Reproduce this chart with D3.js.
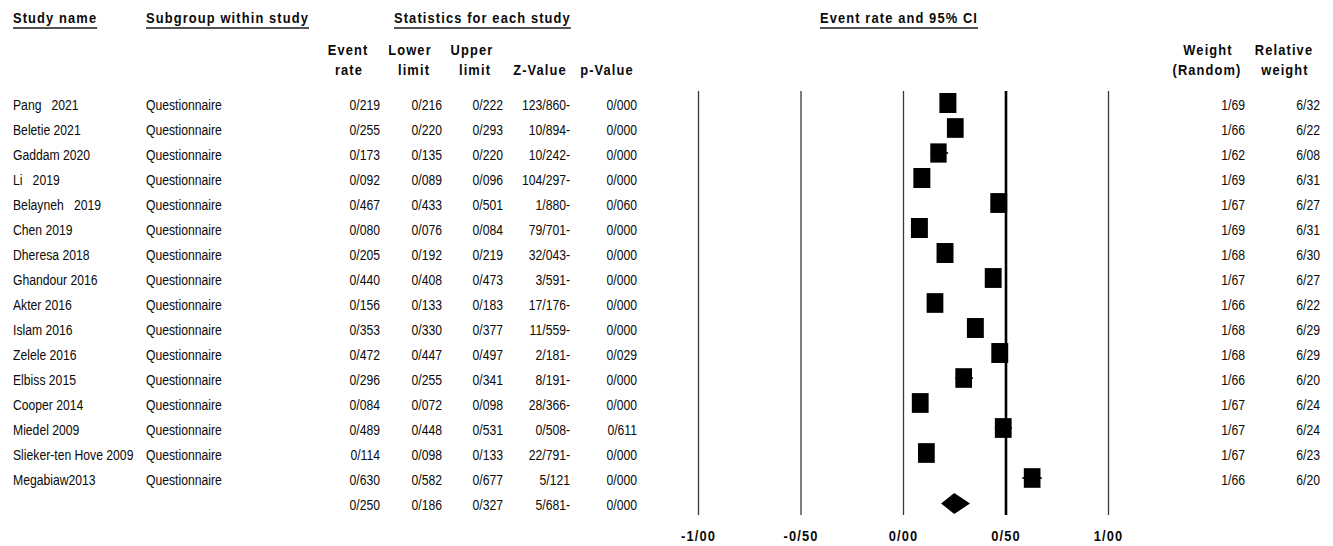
<!DOCTYPE html>
<html>
<head>
<meta charset="utf-8">
<script src="https://cdn.jsdelivr.net/npm/d3@7"></script>
<style>
  html, body { margin: 0; padding: 0; background: #fff; }
  svg { display: block; }
  text { font-family: "Liberation Sans", Arial, sans-serif; fill: #0a0a0a; white-space: pre; }
</style>
</head>
<body>
<svg id="chart" width="1333" height="546"></svg>
<script>
// ---------------- DATA ----------------
const studies = ["Pang   2021", "Beletie 2021", "Gaddam 2020", "Li   2019", "Belayneh   2019", "Chen 2019",
  "Dheresa 2018", "Ghandour 2016", "Akter 2016", "Islam 2016", "Zelele 2016", "Elbiss 2015",
  "Cooper 2014", "Miedel 2009", "Slieker-ten Hove 2009", "Megabiaw2013"];
const subgroups = ["Questionnaire", "Questionnaire", "Questionnaire", "Questionnaire", "Questionnaire", "Questionnaire",
  "Questionnaire", "Questionnaire", "Questionnaire", "Questionnaire", "Questionnaire", "Questionnaire",
  "Questionnaire", "Questionnaire", "Questionnaire", "Questionnaire"];
const eventRate  = [0.219, 0.255, 0.173, 0.092, 0.467, 0.080, 0.205, 0.440, 0.156, 0.353, 0.472, 0.296, 0.084, 0.489, 0.114, 0.630];
const lowerLimit = [0.216, 0.220, 0.135, 0.089, 0.433, 0.076, 0.192, 0.408, 0.133, 0.330, 0.447, 0.255, 0.072, 0.448, 0.098, 0.582];
const upperLimit = [0.222, 0.293, 0.220, 0.096, 0.501, 0.084, 0.219, 0.473, 0.183, 0.377, 0.497, 0.341, 0.098, 0.531, 0.133, 0.677];
const zValue     = [-123.860, -10.894, -10.242, -104.297, -1.880, -79.701, -32.043, -3.591, -17.176, -11.559, -2.181, -8.191, -28.366, -0.508, -22.791, 5.121];
const pValue     = [0.000, 0.000, 0.000, 0.000, 0.060, 0.000, 0.000, 0.000, 0.000, 0.000, 0.029, 0.000, 0.000, 0.611, 0.000, 0.000];
const weightRandom   = [1.69, 1.66, 1.62, 1.69, 1.67, 1.69, 1.68, 1.67, 1.66, 1.68, 1.68, 1.66, 1.67, 1.67, 1.67, 1.66];
const relativeWeight = [6.32, 6.22, 6.08, 6.31, 6.27, 6.31, 6.30, 6.27, 6.22, 6.29, 6.29, 6.20, 6.24, 6.24, 6.23, 6.20];
// pooled (random effects) row
const summaryRate = 0.250, summaryLower = 0.186, summaryUpper = 0.327, summaryZ = -5.681, summaryP = 0.000;
const axisTicks = [-1, -0.5, 0, 0.5, 1];

// ---------------- HELPERS ----------------
const svg = d3.select("#chart");
const f3 = d3.format(".3f"), f2 = d3.format(".2f");
const loc = (s) => s.replace(".", "/");
// table numbers: minus sign written after the number (as in the source)
const fmtNum = (v, f) => { const s = loc(f(Math.abs(v))); return v < 0 ? s + "-" : s; };
// axis labels: leading minus
const fmtAxis = (v) => (v < 0 ? "-" : "") + loc(f2(Math.abs(v)));

const BOLD = { size: 15, weight: "bold", ls: 1.3, sx: 0.86 };
const REG  = { size: 14, weight: "normal", ls: 0, sx: 0.87 };

function txt(parent, x, y, str, style, anchor) {
  return parent.append("text")
    .attr("transform", `translate(${x},${y}) scale(${style.sx},1)`)
    .attr("text-anchor", anchor || "start")
    .style("font-size", style.size + "px")
    .style("font-weight", style.weight)
    .style("letter-spacing", style.ls + "px")
    .text(str);
}

// ---------------- SCALES ----------------
const x = d3.scaleLinear().domain([-1, 1]).range([698, 1108]);
const nRows = studies.length + 1;
const rowY = d3.scaleLinear().domain([0, nRows - 1]).range([103, 503]);
const boxW = d3.scaleLinear().domain([0, d3.max(relativeWeight)]).range([0, 17]);
const boxH = d3.scaleLinear().domain([0, d3.max(relativeWeight)]).range([0, 20]);
const plotTop = 91, plotBottom = 515;

// ---------------- HEADERS ----------------
const hdr = svg.append("g");
const titles = [
  ["Study name", 13], ["Subgroup within study", 146],
  ["Statistics for each study", 394], ["Event rate and 95% CI", 820]
];
titles.forEach(([t, xx]) => {
  const el = txt(hdr, xx, 23, t, BOLD, "start");
  const w = el.node().getBBox().width * BOLD.sx;
  hdr.append("line").attr("x1", xx).attr("x2", xx + w)
    .attr("y1", 28).attr("y2", 28).attr("stroke", "#1a1a1a").attr("stroke-width", 1.6);
});
const sub = [
  ["Event", 348, 55], ["rate", 349, 75], ["Lower", 410, 55], ["limit", 414, 75],
  ["Upper", 472, 55], ["limit", 475, 75], ["Z-Value", 540, 75], ["p-Value", 607, 75],
  ["Weight", 1208, 55], ["(Random)", 1207, 75], ["Relative", 1284, 55], ["weight", 1285, 75]
];
sub.forEach(([t, xx, yy]) => txt(hdr, xx, yy, t, BOLD, "middle"));

// ---------------- GRID / AXIS ----------------
const axisG = svg.append("g").attr("transform", `translate(0,${plotBottom})`)
  .call(d3.axisBottom(x).tickValues(axisTicks)
    .tickSizeInner(-(plotBottom - plotTop)).tickSizeOuter(0).tickPadding(15)
    .tickFormat(fmtAxis));
axisG.select(".domain").remove();
axisG.selectAll(".tick line")
  .attr("stroke", d => d === 0.5 ? "#000" : "#3a3a3a")
  .attr("stroke-width", d => d === 0.5 ? 2.6 : 1.3);
axisG.selectAll(".tick text")
  .attr("transform", `scale(${BOLD.sx},1)`)
  .style("font-size", BOLD.size + "px").style("font-weight", "bold")
  .style("letter-spacing", BOLD.ls + "px").attr("fill", "#0a0a0a")
  .style("font-family", '"Liberation Sans", Arial, sans-serif');

// ---------------- TABLE ----------------
const tbl = svg.append("g");
studies.forEach((s, i) => {
  const yb = rowY(i) + 7;
  txt(tbl, 13, yb, s, REG, "start");
  txt(tbl, 146, yb, subgroups[i], REG, "start");
  txt(tbl, 380, yb, fmtNum(eventRate[i], f3), REG, "end");
  txt(tbl, 442, yb, fmtNum(lowerLimit[i], f3), REG, "end");
  txt(tbl, 503, yb, fmtNum(upperLimit[i], f3), REG, "end");
  txt(tbl, 570, yb, fmtNum(zValue[i], f3), REG, "end");
  txt(tbl, 637, yb, fmtNum(pValue[i], f3), REG, "end");
  txt(tbl, 1245, yb, fmtNum(weightRandom[i], f2), REG, "end");
  txt(tbl, 1320, yb, fmtNum(relativeWeight[i], f2), REG, "end");
});
const ys = rowY(nRows - 1) + 7;
txt(tbl, 380, ys, fmtNum(summaryRate, f3), REG, "end");
txt(tbl, 442, ys, fmtNum(summaryLower, f3), REG, "end");
txt(tbl, 503, ys, fmtNum(summaryUpper, f3), REG, "end");
txt(tbl, 570, ys, fmtNum(summaryZ, f3), REG, "end");
txt(tbl, 637, ys, fmtNum(summaryP, f3), REG, "end");

// ---------------- MARKS ----------------
const marks = svg.append("g");
marks.selectAll("line.ci").data(eventRate).join("line").attr("class", "ci")
  .attr("x1", (d, i) => x(lowerLimit[i])).attr("x2", (d, i) => x(upperLimit[i]))
  .attr("y1", (d, i) => rowY(i)).attr("y2", (d, i) => rowY(i))
  .attr("stroke", "#000").attr("stroke-width", 1.6);
marks.selectAll("rect.box").data(eventRate).join("rect").attr("class", "box")
  .attr("x", (d, i) => x(d) - boxW(relativeWeight[i]) / 2)
  .attr("y", (d, i) => rowY(i) - boxH(relativeWeight[i]) / 2)
  .attr("width", (d, i) => boxW(relativeWeight[i]))
  .attr("height", (d, i) => boxH(relativeWeight[i]))
  .attr("fill", "#000");
const cy = rowY(nRows - 1) + 0.5;
marks.append("path")
  .attr("d", d3.line()([[x(summaryLower), cy], [x(summaryRate), cy - 10.5], [x(summaryUpper), cy], [x(summaryRate), cy + 10.5]]) + "Z")
  .attr("fill", "#000");
</script>
</body>
</html>
